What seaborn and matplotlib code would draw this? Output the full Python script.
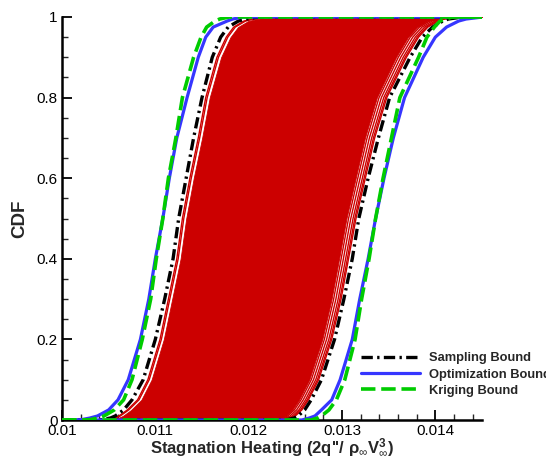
import numpy as np
import pandas as pd
import matplotlib
matplotlib.use("Agg")
import matplotlib.pyplot as plt
from matplotlib.lines import Line2D
import seaborn as sns

# CDF levels shared by all curves (end points pad the curves to the axis limits)
cdf_levels = [0.0, 0.0, 0.005, 0.01, 0.025, 0.05, 0.1, 0.2, 0.3, 0.4, 0.5,
              0.6, 0.7, 0.8, 0.9, 0.95, 0.975, 0.99, 0.995, 1.0, 1.0]

# Stagnation heating values of each bound curve at those CDF levels
sampling_lower = [0.0100, 0.01041, 0.01052, 0.01057, 0.01066, 0.01075, 0.01087, 0.01100, 0.01110, 0.01119,
                  0.01125, 0.01133, 0.01141, 0.01150, 0.01161, 0.01170, 0.01178, 0.01189, 0.01197, 0.01211, 0.0145]
sampling_upper = [0.0100, 0.01240, 0.01249, 0.01253, 0.01260, 0.01267, 0.01278, 0.01292, 0.01302, 0.01311,
                  0.01318, 0.01328, 0.01339, 0.01351, 0.01373, 0.01386, 0.01397, 0.01408, 0.01414, 0.01429, 0.0145]
optim_lower = [0.0100, 0.01019, 0.01030, 0.01038, 0.01050, 0.01060, 0.01071, 0.01084, 0.01093, 0.01100,
               0.01108, 0.01115, 0.01123, 0.01134, 0.01146, 0.01154, 0.01162, 0.01177, 0.01183, 0.01194, 0.0145]
optim_upper = [0.0100, 0.01257, 0.01265, 0.01271, 0.01278, 0.01289, 0.01298, 0.01311, 0.01319, 0.01328,
               0.01336, 0.01345, 0.01355, 0.01367, 0.01387, 0.01400, 0.01412, 0.01425, 0.01433, 0.01451, 0.0145]
kriging_lower = [0.0100, 0.01028, 0.01039, 0.01045, 0.01056, 0.01066, 0.01075, 0.01086, 0.01095, 0.01101,
                 0.01108, 0.01114, 0.01122, 0.01129, 0.01141, 0.01149, 0.01155, 0.01164, 0.01169, 0.01179, 0.0145]
kriging_upper = [0.0100, 0.01267, 0.01274, 0.01278, 0.01286, 0.01294, 0.01303, 0.01314, 0.01321, 0.01329,
                 0.01336, 0.01344, 0.01353, 0.01362, 0.01382, 0.01391, 0.01399, 0.01405, 0.01411, 0.01418, 0.0145]

# Envelope of the family of sampled (red) CDF curves
samples_left = [0.0100, 0.01046, 0.01056, 0.01061, 0.01070, 0.01081, 0.01092, 0.01105, 0.01114, 0.01123,
                0.01129, 0.01137, 0.01146, 0.01154, 0.01166, 0.01176, 0.01184, 0.01195, 0.01204, 0.01219, 0.0145]
samples_right = [0.0100, 0.01237, 0.01246, 0.01250, 0.01257, 0.01264, 0.01275, 0.01289, 0.01299, 0.01307,
                 0.01315, 0.01325, 0.01335, 0.01348, 0.01369, 0.01382, 0.01392, 0.01403, 0.01410, 0.01424, 0.0145]
# relative positions (0 = left envelope, 1 = right envelope) of the visible sample curves
dense_core = [0.022, 0.945]
sample_curve_pos = [0.0, 0.008, 0.957, 0.970, 0.983, 0.993, 1.0]

legend_labels = ["Sampling Bound", "Optimization Bound", "Kriging Bound"]
xticks = [0.01, 0.011, 0.012, 0.013, 0.014]
xtick_labels = ["0.01", "0.011", "0.012", "0.013", "0.014"]
yticks = [0, 0.2, 0.4, 0.6, 0.8, 1.0]
ytick_labels = ["0", "0.2", "0.4", "0.6", "0.8", "1"]

sns.set_style("ticks")
plt.rcParams["font.family"] = ["Liberation Sans", "DejaVu Sans"]
plt.rcParams["mathtext.fontset"] = "custom"
plt.rcParams["mathtext.rm"] = "Liberation Sans"
plt.rcParams["mathtext.it"] = "Liberation Sans:italic"
plt.rcParams["mathtext.bf"] = "Liberation Sans:bold"

RED = "#cc0000"
BLACK = "#000000"
BLUE = "#3636ff"
GREEN = "#00cc00"

fig = plt.figure(figsize=(5.46, 4.57), dpi=100)
ax = fig.add_axes([62 / 546, 1 - 420 / 457, 420 / 546, 403 / 457])

y = np.array(cdf_levels)
L = np.array(samples_left)
R = np.array(samples_right)

core_lo = L + dense_core[0] * (R - L)
core_hi = L + dense_core[1] * (R - L)
ax.fill_betweenx(y, core_lo, core_hi, color=RED, linewidth=0.6, edgecolor=RED, zorder=1)
for t in sample_curve_pos:
    df = pd.DataFrame({"x": L + t * (R - L), "y": y})
    sns.lineplot(data=df, x="x", y="y", ax=ax, color=RED, lw=1.0,
                 sort=False, estimator=None, zorder=2)

styles = {
    "sampling": dict(color=BLACK, lw=2.4, dashes=(3.4, 1.3, 0.7, 1.3)),
    "optim": dict(color=BLUE, lw=2.3, dashes=""),
    "kriging": dict(color=GREEN, lw=2.6, dashes=(4.0, 1.6)),
}
curves = [("sampling", sampling_lower), ("sampling", sampling_upper),
          ("optim", optim_lower), ("optim", optim_upper),
          ("kriging", kriging_lower), ("kriging", kriging_upper)]
z = {"sampling": 3, "optim": 4, "kriging": 5}
for name, xs in curves:
    st = styles[name]
    df = pd.DataFrame({"x": xs, "y": y})
    ln = sns.lineplot(data=df, x="x", y="y", ax=ax, color=st["color"], lw=st["lw"],
                      sort=False, estimator=None, zorder=z[name]).get_lines()[-1]
    if st["dashes"]:
        ln.set_dashes(st["dashes"])

ax.set_xlim(0.01, 0.0145)
ax.set_ylim(0, 1)
ax.set_xticks(xticks)
ax.set_xticklabels(xtick_labels)
ax.set_yticks(yticks)
ax.set_yticklabels(ytick_labels)
ax.set_xticks(np.arange(0.0102, 0.0145, 0.0002), minor=True)
ax.set_yticks(np.arange(0.05, 1.0, 0.05), minor=True)
ax.tick_params(which="major", direction="in", length=7, width=1.3, labelsize=11, pad=3, colors="black")
ax.tick_params(which="minor", direction="in", length=4, width=1.0)
for s in ["top", "right"]:
    ax.spines[s].set_visible(False)
for s in ["left", "bottom"]:
    ax.spines[s].set_linewidth(1.8)
    ax.spines[s].set_color("black")

ax.set_xlabel("Stagnation Heating (2q''/ ρ$_{\\infty}$V$_{\\infty}^{\\mathbf{3}}$)",
              fontsize=12, fontweight="bold", labelpad=-1)
ax.set_ylabel("CDF", fontsize=13.5, fontweight="bold", labelpad=6)

handles = []
for name in ["sampling", "optim", "kriging"]:
    st = styles[name]
    h = Line2D([], [], color=st["color"], lw=st["lw"])
    if st["dashes"]:
        h.set_dashes(st["dashes"])
    handles.append(h)
leg = ax.legend(handles, legend_labels, loc="upper left",
                bbox_to_anchor=(355 / 546, 1 - 346 / 457), bbox_transform=fig.transFigure,
                frameon=False, borderpad=0, handlelength=4.5, handletextpad=0.7,
                labelspacing=0.32, prop={"weight": "bold", "size": 9.3})

fig.savefig("out.png", dpi=100)
